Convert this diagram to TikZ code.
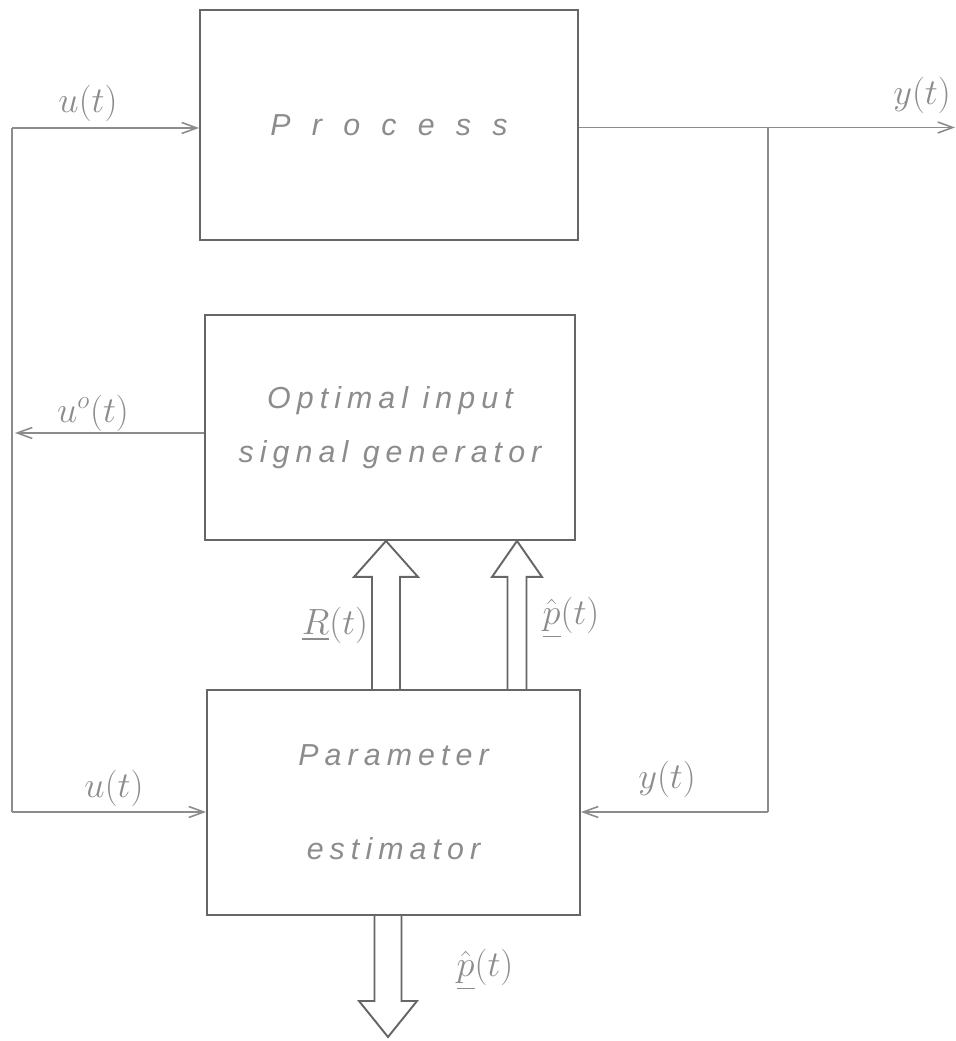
\documentclass[tikz,border=0pt]{standalone}
\usepackage{amsmath}
\usepackage{fontspec}
\usetikzlibrary{arrows.meta,positioning,calc}
\definecolor{pencil}{HTML}{666666}
\definecolor{lead}{HTML}{8C8C8C}
\newfontfamily\handfont[LetterSpace=20]{Liberation Sans}
\tikzset{
  block/.style={rectangle, draw=pencil, line width=1.1pt, align=center, font=\LARGE\handfont\itshape, text=lead},
  signal/.style={-{Straight Barb[length=3mm,width=2.2mm]}, draw=lead, line width=0.9pt},
  line/.style={draw=lead, line width=0.9pt},
  lbl/.style={font=\huge, text=lead},
  hollow/.style args={#1 and #2}{draw=pencil, line width=1.1pt, to path={
    ($(\tikztostart)!#1!-90:(\tikztotarget)$)
    -- ($(\tikztotarget)!0.72cm!(\tikztostart)!#1!90:(\tikztostart)$)
    -- ($(\tikztotarget)!0.72cm!(\tikztostart)!#2!90:(\tikztostart)$)
    -- (\tikztotarget)
    -- ($(\tikztotarget)!0.72cm!(\tikztostart)!#2!-90:(\tikztostart)$)
    -- ($(\tikztotarget)!0.72cm!(\tikztostart)!#1!-90:(\tikztostart)$)
    -- ($(\tikztostart)!#1!90:(\tikztotarget)$)}}
}

\begin{document}
\begin{tikzpicture}
  \useasboundingbox (0,0) rectangle (19.12,20.82);

  \node[block, minimum width=7.56cm, minimum height=4.6cm] (proc) at (7.78,18.32) {\addfontfeature{LetterSpace=70}Process};
  \node[block, minimum width=7.40cm, minimum height=4.5cm] (opt) at (7.80,12.27) {Optimal input\\[0.3cm]signal generator};
  \node[block, minimum width=7.46cm, minimum height=4.5cm] (est) at (7.87,4.77) {Parameter\\[1.1cm]estimator};

  \coordinate (ltop) at (0.24,18.26);
  \coordinate (lbot) at (0.24,4.58);
  \coordinate (uo) at (0.30,12.16);
  \coordinate (ytap) at (15.36,18.27);
  \coordinate (yout) at (19.10,18.27);
  \coordinate (ybot) at (15.36,4.58);
  \coordinate (ra) at (7.72,0);
  \coordinate (pa) at (10.34,0);
  \coordinate (pout) at (7.76,0.08);

  % input and feedback lines
  \draw[line] (lbot) -- (ltop);
  \draw[signal] (ltop) -- (ltop -| proc.west);
  \draw[signal] (lbot) -- (lbot -| est.west);
  \draw[signal] (opt.west |- uo) -- (uo);
  \draw[signal] (proc.east |- yout) -- (yout);
  \draw[line] (ytap) -- (ybot);
  \draw[signal] (ybot) -- (ybot -| est.east);

  % wide arrows
  \draw[hollow=0.28cm and 0.64cm] (est.north -| ra) to (opt.south -| ra);
  \draw[hollow=0.19cm and 0.50cm] (est.north -| pa) to (opt.south -| pa);
  \draw[hollow=0.27cm and 0.58cm] (est.south -| pout) to (pout);

  \node[lbl] (lu1) at (1.76,18.76) {$u(t)$};
  \node[lbl] (luo) at (1.86,12.56) {$u^{o}(t)$};
  \node[lbl] (lu2) at (2.28,5.06) {$u(t)$};
  \node[lbl] (ly1) at (18.44,18.92) {$y(t)$};
  \node[lbl] (ly2) at (13.34,5.24) {$y(t)$};
  \node[lbl] (lR) at (6.70,8.32) {$\underline{R}(t)$};
  \node[lbl] (lp1) at (11.42,8.46) {$\hat{\underline{p}}(t)$};
  \node[lbl] (lp2) at (9.70,1.42) {$\hat{\underline{p}}(t)$};
\end{tikzpicture}
\end{document}
